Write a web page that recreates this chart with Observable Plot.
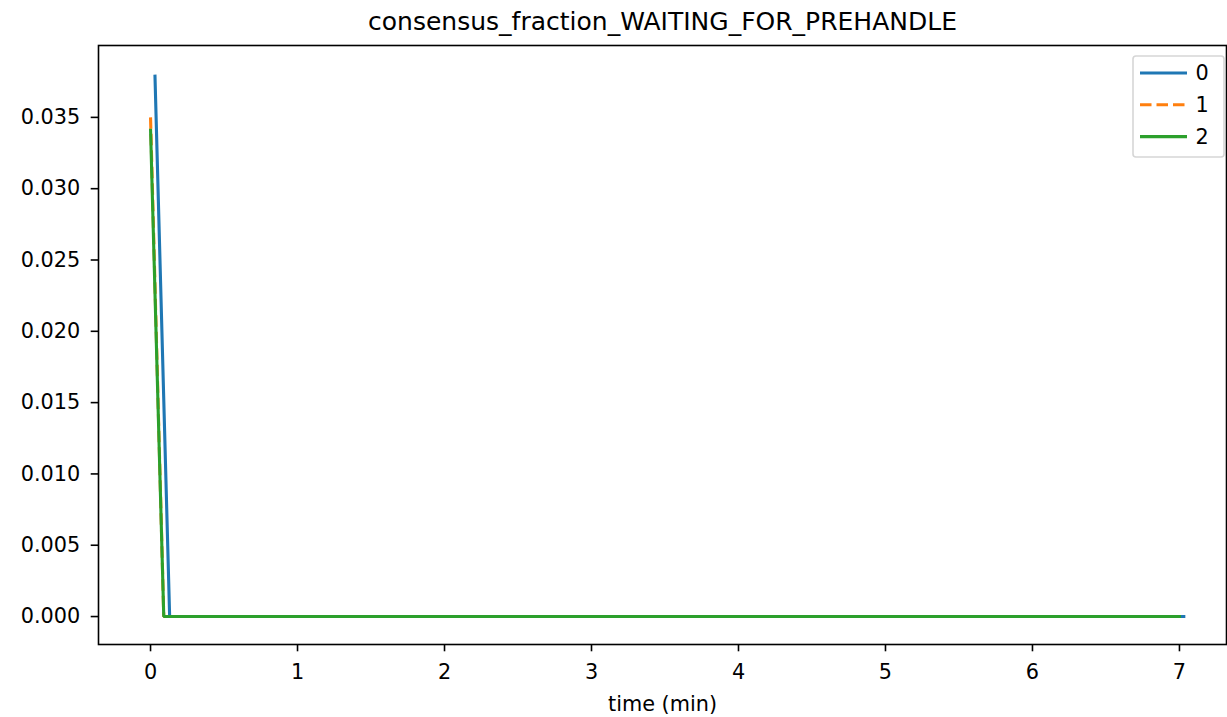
<!DOCTYPE html>
<html>
<head>
<meta charset="utf-8">
<script src="https://cdn.jsdelivr.net/npm/d3@7"></script>
<script src="https://cdn.jsdelivr.net/npm/@observablehq/plot@0.6"></script>
<style>
  html, body { margin: 0; padding: 0; background: #fff; }
  #chart svg { display: block; }
</style>
</head>
<body>
<div id="chart"></div>
<script>
// ---- data ----
const titleText = "consensus_fraction_WAITING_FOR_PREHANDLE";
const xLabel = "time (min)";
const seriesNames = ["0", "1", "2"];
const seriesColors = ["#1f77b4", "#ff7f0e", "#2ca02c"];
const seriesDash = [null, "11.5,5", null];

const time0 = [0.03, 0.13, 7.04];
const value0 = [0.038, 0, 0];
const time1 = [0.0, 0.09, 7.01];
const value1 = [0.035, 0, 0];
const time2 = [0.0, 0.09, 7.01];
const value2 = [0.0342, 0, 0];

const xTicks = [0, 1, 2, 3, 4, 5, 6, 7];
const yTicks = [0, 0.005, 0.01, 0.015, 0.02, 0.025, 0.03, 0.035];

// ---- build rows ----
const times = [time0, time1, time2];
const values = [value0, value1, value2];
const rows = [];
seriesNames.forEach((s, i) => {
  times[i].forEach((t, j) => rows.push({series: s, time: t, value: values[i][j]}));
});

const font = "DejaVu Sans, sans-serif";
const fs = 20.8;
const W = 1227, H = 717;
const mL = 98, mR = 1, mT = 45, mB = 73;

const lineMarks = seriesNames.map((s, i) =>
  Plot.line(rows.filter(d => d.series === s), {
    x: "time", y: "value",
    stroke: seriesColors[i], strokeWidth: 3.1,
    strokeDasharray: seriesDash[i] || undefined,
    strokeLinejoin: "miter", strokeLinecap: "butt"
  })
);

const plot = Plot.plot({
  width: W, height: H,
  marginLeft: mL, marginRight: mR, marginTop: mT, marginBottom: mB,
  style: {fontFamily: font, fontSize: fs + "px", color: "#000", background: "#fff"},
  x: {domain: [-0.354, 7.32]},
  y: {domain: [-0.00196, 0.04004]},
  marks: [
    ...lineMarks,
    Plot.frame({stroke: "#000", strokeWidth: 1.6}),
    Plot.axisX(xTicks, {tickSize: 7.3, tickPadding: 12, fontSize: fs, label: null, tickFormat: d3.format("d"), strokeWidth: 1.6, stroke: "#000", fill: "#000"}),
    Plot.axisY(yTicks, {tickSize: 7.3, tickPadding: 11, fontSize: fs, label: null, tickFormat: d3.format(".3f"), strokeWidth: 1.6, stroke: "#000", fill: "#000"}),
    Plot.text([xLabel], {frameAnchor: "bottom", lineAnchor: "middle", dy: 60, fontSize: fs, fill: "#000"}),
    Plot.text([titleText], {frameAnchor: "top", lineAnchor: "middle", dy: -24, fontSize: 25, fill: "#000"})
  ]
});

document.getElementById("chart").appendChild(plot);

// ---- legend (upper right, matplotlib style) ----
const svg = d3.select(plot);
const lg = svg.append("g").attr("font-family", font).attr("font-size", fs);
const boxX = 1133, boxY = 56, boxW = 91, boxH = 101;
lg.append("rect").attr("x", boxX).attr("y", boxY).attr("width", boxW).attr("height", boxH)
  .attr("rx", 3).attr("fill", "#fff").attr("fill-opacity", 0.8)
  .attr("stroke", "#d6d6d6").attr("stroke-width", 1.6);
seriesNames.forEach((s, i) => {
  const y = 73 + i * 31.8;
  lg.append("line").attr("x1", 1140).attr("x2", 1187).attr("y1", y).attr("y2", y)
    .attr("stroke", seriesColors[i]).attr("stroke-width", 3.1)
    .attr("stroke-dasharray", seriesDash[i]);
  lg.append("text").attr("x", 1202).attr("y", y).attr("dy", "0.35em").attr("fill", "#000").text(s);
});
</script>
</body>
</html>
